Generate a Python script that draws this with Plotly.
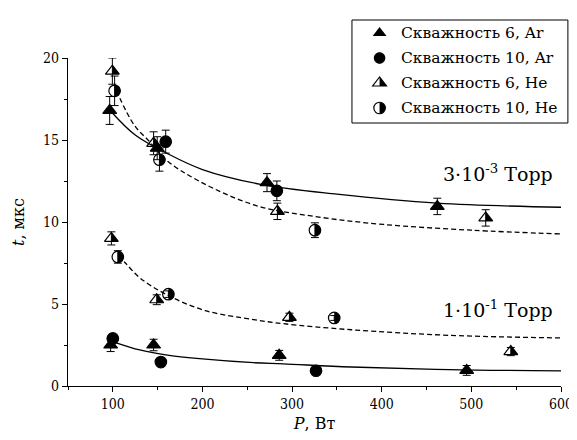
import numpy as np
import plotly.graph_objects as go

# ---------------- data ----------------
# 3e-3 Torr
P_ar6_hi = [96.5, 149.5, 272, 462]
t_ar6_hi = [16.8, 14.5, 12.4, 10.95]
e_ar6_hi = [0.85, 0.7, 0.55, 0.5]

P_ar10_hi = [159, 283]
t_ar10_hi = [14.9, 11.9]
e_ar10_hi = [0.7, 0.6]

P_he6_hi = [99.5, 145.5, 283.6, 516]
t_he6_hi = [19.2, 14.8, 10.65, 10.25]
e_he6_hi = [0.8, 0.7, 0.5, 0.5]

P_he10_hi = [102, 152, 325.5]
t_he10_hi = [18.0, 13.8, 9.5]
e_he10_hi = [0.9, 0.7, 0.45]

# 1e-1 Torr
P_ar6_lo = [97.6, 145.5, 285.6, 494.8]
t_ar6_lo = [2.5, 2.5, 1.87, 0.95]
e_ar6_lo = [0.4, 0.35, 0.3, 0.3]

P_ar10_lo = [100, 153.6, 326.7]
t_ar10_lo = [2.9, 1.46, 0.93]
e_ar10_lo = [0.1, 0.1, 0.1]

P_he6_lo = [98.4, 149, 297, 544]
t_he6_lo = [9.0, 5.26, 4.19, 2.1]
e_he6_lo = [0.4, 0.3, 0.25, 0.25]

P_he10_lo = [105.6, 162, 347]
t_he10_lo = [7.87, 5.6, 4.15]
e_he10_lo = [0.38, 0.2, 0.15]

# fit curves
P_fit_ar_hi = [97, 125, 160, 200, 265, 350, 462, 600]
t_fit_ar_hi = [16.8, 15.3, 14.2, 13.2, 12.3, 11.7, 11.15, 10.9]

P_fit_he_hi = [104, 124, 141, 159, 196, 260, 330, 402, 500, 600]
t_fit_he_hi = [18.0, 15.9, 14.9, 13.8, 12.5, 11.0, 10.3, 9.85, 9.5, 9.27]

P_fit_he_lo = [106, 114, 130, 159, 203, 257, 290, 366, 475, 600]
t_fit_he_lo = [7.95, 7.5, 6.6, 5.6, 4.6, 4.05, 3.8, 3.43, 3.09, 2.93]

P_fit_ar_lo = [103, 130, 159, 200, 257, 290, 366, 475, 600]
t_fit_ar_lo = [2.65, 2.2, 1.9, 1.65, 1.42, 1.35, 1.16, 1.0, 0.92]

legend_labels = ["Скважность 6, Ar", "Скважность 10, Ar",
                 "Скважность 6, He", "Скважность 10, He"]

x_ticks = [100, 200, 300, 400, 500, 600]
y_ticks = [0, 5, 10, 15, 20]

# ---------------- styling ----------------
F_TICK = "DejaVu Serif Condensed"
F_MAIN = "DejaVu Serif"
TRI = 12
CIR = 11.5

fig = go.Figure()

def curve(P, t, dash):
    fig.add_trace(go.Scatter(x=P, y=t, mode="lines", line_shape="spline",
                             line=dict(color="black", width=1.3, dash=dash),
                             showlegend=False, hoverinfo="skip"))

curve(P_fit_ar_hi, t_fit_ar_hi, "solid")
curve(P_fit_he_hi, t_fit_he_hi, "5px,3px")
curve(P_fit_he_lo, t_fit_he_lo, "5px,3px")
curve(P_fit_ar_lo, t_fit_ar_lo, "solid")

def pts(P, t, e, symbol, size):
    fig.add_trace(go.Scatter(
        x=P, y=t, mode="markers", cliponaxis=False,
        marker=dict(symbol=symbol, size=size, color="black",
                    line=dict(color="black", width=1.2)),
        error_y=dict(type="data", array=e, visible=True, color="black",
                     thickness=1, width=4),
        showlegend=False))

pts(P_ar6_hi, t_ar6_hi, e_ar6_hi, "triangle-up", TRI)
pts(P_ar6_lo, t_ar6_lo, e_ar6_lo, "triangle-up", TRI)
pts(P_ar10_hi, t_ar10_hi, e_ar10_hi, "circle", CIR)
pts(P_ar10_lo, t_ar10_lo, e_ar10_lo, "circle", CIR)
pts(P_he6_hi, t_he6_hi, e_he6_hi, "triangle-up-open", TRI)
pts(P_he6_lo, t_he6_lo, e_he6_lo, "triangle-up-open", TRI)
pts(P_he10_hi, t_he10_hi, e_he10_hi, "circle-open", CIR)
pts(P_he10_lo, t_he10_lo, e_he10_lo, "circle-open", CIR)

def tri_path(s, half=False):
    r = s / 2.0
    rt = s / np.sqrt(3)
    if half:
        return f"M0,{r} L0,{-r/2} L{rt},{-r/2} Z"
    return f"M0,{r} L{-rt},{-r/2} L{rt},{-r/2} Z"

def cir_path(s, half=False):
    r = s / 2.0
    k = 0.5523 * r
    right = f"M0,{r} C{k},{r} {r},{k} {r},0 C{r},{-k} {k},{-r} 0,{-r}"
    if half:
        return right + " Z"
    return right + f" C{-k},{-r} {-r},{-k} {-r},0 C{-r},{k} {-k},{r} 0,{r} Z"

shapes = []
def half_shapes(P, t, path):
    for x, y in zip(P, t):
        shapes.append(dict(type="path", xref="x", yref="y",
                           xsizemode="pixel", ysizemode="pixel",
                           xanchor=x, yanchor=y, path=path,
                           fillcolor="black", line=dict(width=0)))

half_shapes(P_he6_hi + P_he6_lo, t_he6_hi + t_he6_lo, tri_path(TRI, True))
half_shapes(P_he10_hi + P_he10_lo, t_he10_hi + t_he10_lo, cir_path(CIR, True))

W, H = 577, 440
ML, MR, MT, MB = 60, 17, 50, 62
pw, ph = W - ML - MR, H - MT - MB

def px2paper(px, py):
    return (px - ML) / pw, (H - MB - py) / ph

bx0, by0 = px2paper(348, 12)
bx1, by1 = px2paper(567, 115)
shapes.append(dict(type="rect", xref="paper", yref="paper",
                   x0=bx0, x1=bx1, y0=by1, y1=by0,
                   line=dict(color="black", width=1), fillcolor="white",
                   layer="above"))

leg_paths = [
    [(tri_path(TRI), "black", 0)],
    [(cir_path(CIR), "black", 0)],
    [(tri_path(TRI), "white", 1.2), (tri_path(TRI, True), "black", 0)],
    [(cir_path(CIR), "white", 1.2), (cir_path(CIR, True), "black", 0)],
]
annotations = []
for i, (lab, parts) in enumerate(zip(legend_labels, leg_paths)):
    py = 25 + 25 * i
    mx, my = px2paper(376, py)
    for path, fc, lw in parts:
        shapes.append(dict(type="path", xref="paper", yref="paper",
                           xsizemode="pixel", ysizemode="pixel",
                           xanchor=mx, yanchor=my, path=path,
                           fillcolor=fc, line=dict(color="black", width=lw)))
    tx, ty = px2paper(396, py)
    annotations.append(dict(xref="paper", yref="paper", x=tx, y=ty,
                            xanchor="left", yanchor="middle", showarrow=False,
                            text=lab, font=dict(family=F_MAIN, size=15.5, color="black")))

for txt, (cx, cy) in [("3·10<sup>-3</sup> Торр", (496, 165)),
                      ("1·10<sup>-1</sup> Торр", (496, 301))]:
    ax, ay = px2paper(cx, cy)
    annotations.append(dict(xref="paper", yref="paper", x=ax, y=ay,
                            xanchor="center", yanchor="middle", showarrow=False,
                            text=txt, font=dict(family=F_MAIN, size=19, color="black")))

axis_common = dict(showline=True, linecolor="black", linewidth=1.3,
                   ticks="outside", ticklen=5, tickwidth=1.2, tickcolor="black",
                   showgrid=False, zeroline=False, mirror=False,
                   ticklabeloverflow="allow",
                   tickfont=dict(family=F_TICK, size=14, color="black"))

fig.update_layout(
    width=W, height=H,
    margin=dict(l=ML, r=MR, t=MT, b=MB),
    paper_bgcolor="white", plot_bgcolor="white",
    showlegend=False,
    shapes=shapes, annotations=annotations,
    xaxis=dict(range=[50, 600], tickvals=x_ticks, automargin=True,
               minor=dict(dtick=50, tick0=50, ticks="outside", ticklen=3,
                          tickwidth=1.2, tickcolor="black"),
               title=dict(text="<i>P</i>, Вт", standoff=6,
                          font=dict(family=F_MAIN, size=16, color="black")),
               **axis_common),
    yaxis=dict(range=[0, 20], tickvals=y_ticks, automargin=False,
               minor=dict(dtick=2.5, tick0=0, ticks="outside", ticklen=3,
                          tickwidth=1.2, tickcolor="black"),
               title=dict(text="<i>t</i>, мкс", standoff=14,
                          font=dict(family=F_MAIN, size=16, color="black")),
               **axis_common),
)

fig.write_html("out.html")
